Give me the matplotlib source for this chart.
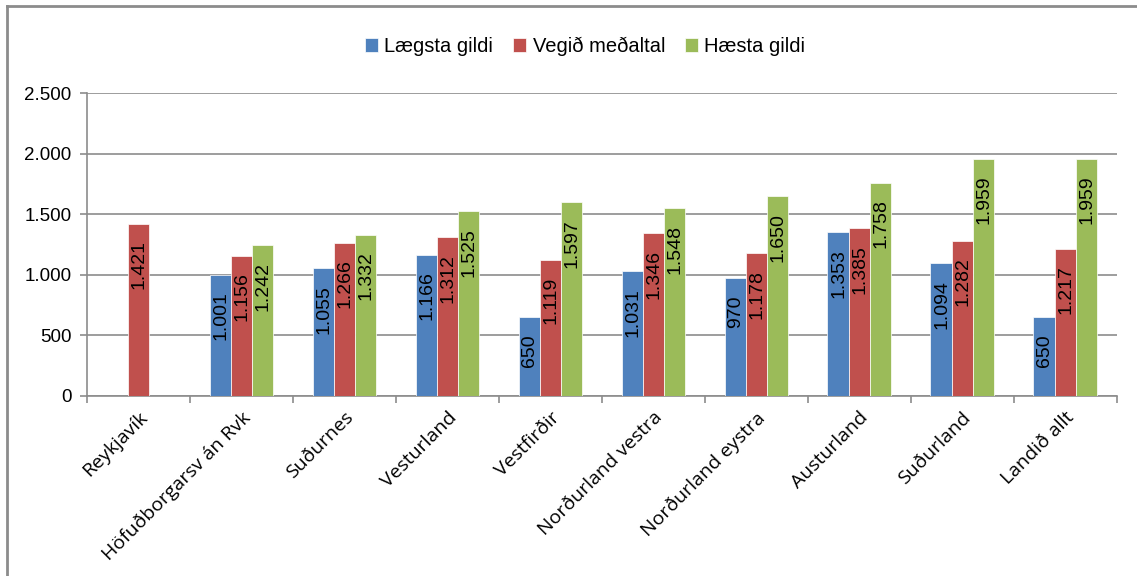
#!/usr/bin/env python3
"""
Lægsta, vegið meðaltal og hæsta gildi eftir landshlutum
"""

import matplotlib
matplotlib.use("Agg")
import matplotlib.pyplot as plt
import numpy as np
from matplotlib import font_manager
from matplotlib.lines import Line2D

categories = [
    "Reykjavík", "Höfuðborgarsv án Rvk", "Suðurnes", "Vesturland", "Vestfirðir",
    "Norðurland vestra", "Norðurland eystra", "Austurland", "Suðurland", "Landið allt",
]
laegsta = [np.nan, 1001, 1055, 1166, 650, 1031, 970, 1353, 1094, 650]
medaltal = [1421, 1156, 1266, 1312, 1119, 1346, 1178, 1385, 1282, 1217]
haesta = [np.nan, 1242, 1332, 1525, 1597, 1548, 1650, 1758, 1959, 1959]

series = [
    ("Lægsta gildi", laegsta, "#4F81BD"),
    ("Vegið meðaltal", medaltal, "#C0504D"),
    ("Hæsta gildi", haesta, "#9BBB59"),
]

GRID = "#8c8c8c"


def fmt_is(v):
    # icelandic thousands separator
    return f"{int(v):,}".replace(",", ".")


def label_font():
    # the bar labels are in a condensed face; use one if we have it
    names = {f.name for f in font_manager.fontManager.ttflist}
    for fam, size in [("Liberation Sans Narrow", 18), ("DejaVu Sans Condensed", 15.5)]:
        if fam in names:
            return fam, size
    return "Liberation Sans", 14


def main():
    plt.rcParams["font.family"] = ["Liberation Sans", "DejaVu Sans"]
    fig = plt.figure(figsize=(11.37, 5.76), dpi=100)
    ax = fig.add_axes([0.0765, 0.3125, 0.9055, 0.526])

    lab_fam, lab_size = label_font()

    x = np.arange(len(categories))
    w = 0.205
    for i, (name, vals, col) in enumerate(series):
        pos = x + (i - 1) * w
        ax.bar(pos, vals, width=w, color=col, edgecolor="white", linewidth=0.5,
               label=name, zorder=3)
        for px, v in zip(pos, vals):
            if np.isnan(v):
                continue
            ax.annotate(fmt_is(v), (px, v), xytext=(0.5, -12), textcoords="offset points",
                        rotation=90, ha="center", va="top", fontsize=lab_size,
                        family=lab_fam, color="black", zorder=4)

    ax.set_xlim(-0.5, len(categories) - 0.5)
    ax.set_ylim(0, 2500)
    ax.set_yticks(range(0, 2501, 500))
    ax.set_yticklabels([fmt_is(v) for v in range(0, 2501, 500)], fontsize=13.5)
    ax.yaxis.grid(True, color=GRID, linewidth=1.2, zorder=0)

    ax.set_xticks(np.arange(-0.5, len(categories), 1.0))
    ax.set_xticklabels([])
    ax.set_xticks(x, minor=True)
    ax.set_xticklabels(categories, minor=True, rotation=45, ha="right",
                       rotation_mode="anchor", fontsize=14, family="Open Sans")
    ax.tick_params(axis="x", which="minor", length=0, pad=9)
    ax.tick_params(axis="x", which="major", length=5, color=GRID, width=1.2)
    ax.tick_params(axis="y", length=5, color=GRID, width=1.2, pad=6)

    for s in ["top", "right"]:
        ax.spines[s].set_visible(False)
    for s in ["left", "bottom"]:
        ax.spines[s].set_color(GRID)
        ax.spines[s].set_linewidth(1.2)

    ax.legend(loc="upper center", bbox_to_anchor=(0.484, 1.245), ncol=3, frameon=False,
              fontsize=14.5, handlelength=0.65, handleheight=0.65, handletextpad=0.3,
              columnspacing=1.0)

    # chart border (left and top only visible)
    fig.add_artist(Line2D([0.0065, 0.0065], [0, 0.99], transform=fig.transFigure,
                          color=GRID, linewidth=2))
    fig.add_artist(Line2D([0.0065, 1.0], [0.99, 0.99], transform=fig.transFigure,
                          color=GRID, linewidth=2))

    fig.savefig("out.png", dpi=100)


if __name__ == "__main__":
    main()
